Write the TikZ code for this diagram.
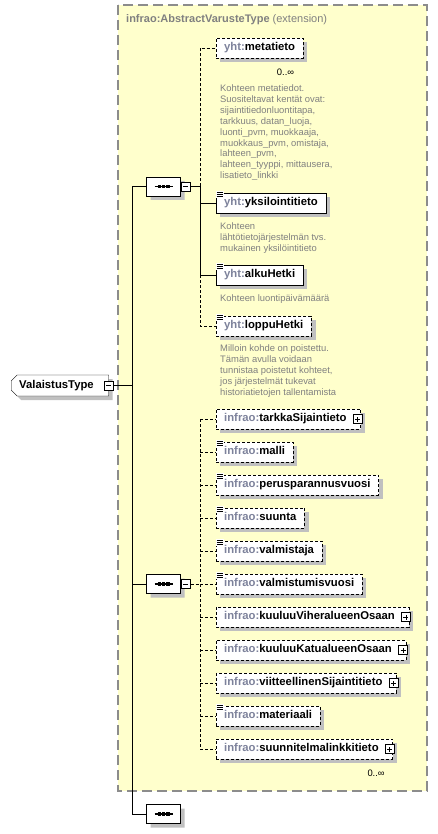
\documentclass[tikz,border=0pt]{standalone}
\usepackage{fontspec}
\setmainfont{Liberation Sans}
\usetikzlibrary{positioning,calc,shapes.misc}

\definecolor{schemabg}{RGB}{255,255,204}
\definecolor{framegray}{RGB}{140,140,140}
\definecolor{pfxgray}{RGB}{125,130,155}
\definecolor{docgray}{RGB}{128,128,128}
\definecolor{shadowgray}{RGB}{192,192,192}

\newcommand{\ns}[1]{\textcolor{pfxgray}{#1}}

\pgfdeclarelayer{back}
\pgfdeclarelayer{shade}
\pgfsetlayers{back,shade,main}

\begin{document}
\begin{tikzpicture}
 [x=1pt,y=-1pt,line width=0.9pt,
% Element boxes
    elem/.style={rectangle,draw,fill=white,anchor=west,minimum height=20,
        inner xsep=8,inner ysep=0,text height=8,text depth=2.5,
        font=\fontsize{11.3}{13}\selectfont\bfseries},
    opt/.style={dash pattern=on 3pt off 2pt},
    simpleel/.style={label={[listmark]north west:{}}},
    complexel/.style={execute at end node={\hspace{6pt}},
        label={[plusbox,label distance=-3pt]east:{}}},
% Small marks on the boxes
    listmark/.style={solid,fill=white,anchor=north west,yshift=2pt,inner sep=0,
        minimum width=8,minimum height=7,
        path picture={\foreach \k in {1.5,3.5,5.5}
            \draw[line width=0.8pt] ([xshift=0.5pt,yshift=-\k pt]path picture bounding box.north west) -- ++(6.5,0);}},
    plusbox/.style={solid,draw,fill=white,anchor=center,inner sep=0,minimum size=9,
        line width=0.8pt,
        path picture={\draw ([xshift=-2.5pt]path picture bounding box.center) -- ++(5,0)
            ([yshift=-2.5pt]path picture bounding box.center) -- ++(0,-5);}},
    minusbox/.style={solid,draw,fill=white,inner sep=0,minimum size=9,line width=0.8pt,
        path picture={\draw ([xshift=-2.5pt]path picture bounding box.center) -- ++(5,0);}},
% Compositors and the type
    seq/.style={chamfered rectangle,chamfered rectangle sep=4.5pt,draw,fill=white,
        minimum width=34,minimum height=19,inner sep=0},
    root/.style={chamfered rectangle,chamfered rectangle corners={north west,south west},
        chamfered rectangle sep=3pt,draw,fill=white,anchor=west,minimum height=21,
        inner xsep=5,inner ysep=0,text height=8,text depth=2.5,
        font=\fontsize{11.3}{13}\selectfont\bfseries,execute at end node={\hspace{7pt}}},
    shadowcopy/.style={fill=shadowgray,draw=none},
% Texts
    docnote/.style={anchor=north west,inner sep=0,align=left,text=docgray,
        font=\fontsize{9.4}{10.9}\selectfont},
    mult/.style={anchor=east,inner sep=0,font=\fontsize{9.4}{11}\selectfont}
    ]
\useasboundingbox (0,0) rectangle (438,834);

%% Extension frame
\begin{pgfonlayer}{back}
\fill[schemabg] (118,5) rectangle (427,791);
\draw[framegray,line width=1.1pt,dash pattern=on 10pt off 5pt] (118,5) rectangle (427,791);
\end{pgfonlayer}
\node[anchor=west,inner sep=0,text=docgray,font=\fontsize{11}{13}\selectfont] (exttitle) at (126,19.5)
    {\textbf{infrao:AbstractVarusteType} (extension)};

%% Type and compositors
\node[root,label={[minusbox,name=vtm,anchor=center]east:{}}] (vt) at (11,385.5) {ValaistusType};
\node[seq,label={[minusbox,name=seqbasem]east:{}}] (seqbase) at (163.5,186.5) {};
\node[seq,label={[minusbox,name=seqextm]east:{}}] (seqext) at (163.5,584) {};
\node[seq] (seqtail) at (163.5,814) {};
\foreach \nm in {seqbase,seqext,seqtail} {
    \draw[line width=1.1pt] ([xshift=-9pt]\nm.center) -- ([xshift=9pt]\nm.center);
    \foreach \d in {-4.2,0,4.2}
        \fill ([xshift=\d pt]\nm.center) +(-1.8,-1.6) rectangle +(1.8,1.6);
}
\coordinate (trunk) at (132,0);
\coordinate (rail) at (200,0);

%% Base type children
\node[elem,opt] (meta) at (216,48) {\ns{yht:}metatieto};
\node[mult] (metamult) at ([shift={(-9,14)}]meta.south east) {0..∞};
\node[docnote] (metadoc) at (220,84.5) {Kohteen metatiedot.\\
    Suositeltavat kentät ovat:\\ sijaintitiedonluontitapa,\\ tarkkuus, datan\_luoja,\\
    luonti\_pvm, muokkaaja,\\ muokkaus\_pvm, omistaja,\\ lahteen\_pvm,\\
    lahteen\_tyyppi, mittausera,\\ lisatieto\_linkki};
\node[elem,simpleel] (yks) at (216,203) {\ns{yht:}yksilointitieto};
\node[docnote] (yksdoc) at (220,222.5) {Kohteen\\ lähtötietojärjestelmän tvs.\\
    mukainen yksilöintitieto};
\node[elem,simpleel] (alku) at (216,275) {\ns{yht:}alkuHetki};
\node[docnote] (alkudoc) at (220,294.5) {Kohteen luontipäivämäärä};
\node[elem,opt,simpleel] (loppu) at (216,326) {\ns{yht:}loppuHetki};
\node[docnote] (loppudoc) at (220,344.5) {Milloin kohde on poistettu.\\
    Tämän avulla voidaan\\ tunnistaa poistetut kohteet,\\ jos järjestelmät tukevat\\
    historiatietojen tallentamista};

%% Extension children
\foreach \nm/\txt/\kind [count=\i from 0] in {
    tarkka/tarkkaSijaintieto/complexel,
    malli/malli/simpleel,
    perus/perusparannusvuosi/simpleel,
    suunta/suunta/simpleel,
    valm/valmistaja/simpleel,
    valmv/valmistumisvuosi/simpleel,
    viher/kuuluuViheralueenOsaan/complexel,
    katu/kuuluuKatualueenOsaan/complexel,
    viite/viitteellinenSijaintitieto/complexel,
    mat/materiaali/simpleel,
    suun/suunnitelmalinkkitieto/complexel}
    \node[elem,opt,\kind] (\nm) at (216,419+33*\i) {\ns{infrao:}\txt};
\node[mult] (suunmult) at ([shift={(-8,14)}]suun.south east) {0..∞};

%% Shadows
\begin{pgfonlayer}{shade}
\foreach \nm in {meta,yks,alku,loppu,tarkka,malli,perus,suunta,valm,valmv,viher,katu,viite,mat,suun}
    \fill[shadowgray] ([shift={(4,4)}]\nm.north west) rectangle ([shift={(4,4)}]\nm.south east);
\foreach \nm in {seqbase,seqext,seqtail}
    \node[seq,shadowcopy] at ([shift={(4,4)}]\nm) {};
\node[root,shadowcopy] at ([shift={(4,4)}]vt.west) {\phantom{ValaistusType}};
\end{pgfonlayer}

%% Connectors
\draw (vtm.east) -- (vtm.east -| trunk);
\draw (seqbase.west) -- (seqbase.west -| trunk) -- (seqtail.west -| trunk) -- (seqtail.west);
\draw (seqext.west) -- (seqext.west -| trunk);
\draw (seqbasem.east) -- (seqbasem.east -| rail);
\draw[opt] (seqbasem.east -| rail) |- (meta.west);
\draw (seqbasem.east -| rail) |- (yks.west);
\draw (yks.west -| rail) |- (alku.west);
\draw[opt] (alku.west -| rail) |- (loppu.west);
\draw[opt] (seqextm.east) -- (seqextm.east -| rail);
\draw[opt] (tarkka.west -| rail) -- (suun.west -| rail);
\foreach \nm in {tarkka,malli,perus,suunta,valm,valmv,viher,katu,viite,mat,suun}
    \draw[opt] (\nm.west -| rail) -- (\nm.west);
\end{tikzpicture}
\end{document}
